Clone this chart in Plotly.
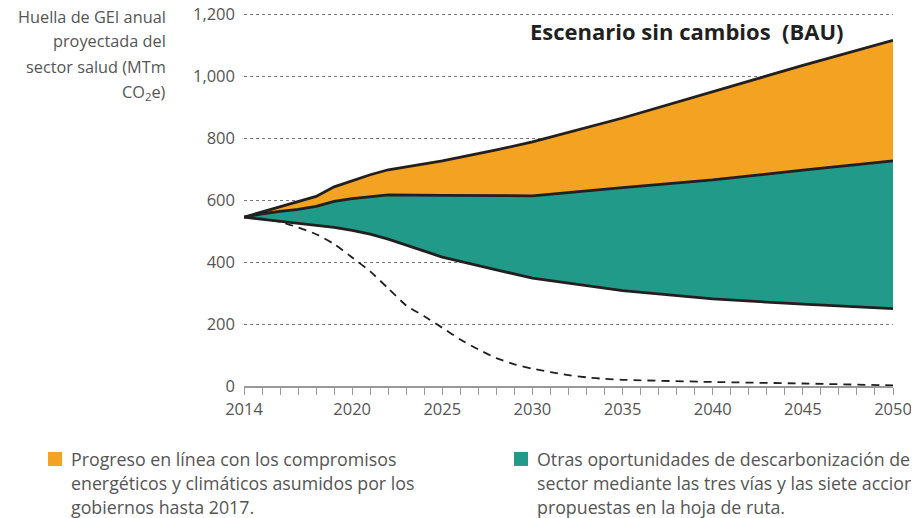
import plotly.graph_objects as go

# ---- data ----
years = [2014, 2015, 2016, 2017, 2018, 2019, 2020, 2021, 2022, 2025, 2028, 2030, 2035, 2040, 2045, 2050]
bau_top = [545, 562, 578, 595, 612, 643, 663, 682, 698, 727, 762, 788, 865, 950, 1035, 1116]
commit_line = [545, 556, 564, 570, 580, 596, 605, 612, 617, 615, 613, 614, 640, 665, 697, 727]
roadmap_line = [545, 538, 533, 526, 518, 512, 502, 490, 474, 416, 375, 348, 308, 281, 264, 250]

dash_years = [2014, 2015, 2016, 2017, 2018, 2019, 2020, 2021, 2022, 2023, 2024, 2025, 2026, 2027,
              2028, 2029, 2030, 2031, 2032, 2033, 2034, 2035, 2040, 2045, 2050]
dash_vals = [545, 540, 530, 512, 490, 458, 415, 370, 315, 260, 225, 188, 150, 118,
             90, 70, 56, 45, 35, 28, 23, 20, 13, 8, 2]

x_labeled = [2014, 2020, 2025, 2030, 2035, 2040, 2045, 2050]
y_ticks = [0, 200, 400, 600, 800, 1000, 1200]

title_text = "Escenario sin cambios  (BAU)"
y_title_lines = ["Huella de GEI anual", "proyectada del", "sector salud (MTm", "CO<sub>2</sub>e)"]
legend1_lines = ["Progreso en línea con los compromisos",
                 "energéticos y climáticos asumidos por los",
                 "gobiernos hasta 2017."]
legend2_lines = ["Otras oportunidades de descarbonización del",
                 "sector mediante las tres vías y las siete acciones",
                 "propuestas en la hoja de ruta."]

ORANGE = "#F3A221"
TEAL = "#219A8A"
DARK = "#231F20"
GRAY_TXT = "#555555"
FONT = "Open Sans, Arial, sans-serif"

# page offset (body margin) so window pixels map to figure pixels
OFF = 8
W, H = 919, 518
Y_MAX = 1204
# plot area in window pixels: x 244..893 ; value 0 at y=386, 1200 at y=14
PX_PER_UNIT = (386 - 14) / 1200
top_w = 386 - Y_MAX * PX_PER_UNIT
L, R, T, B = 244 - OFF, W - (893 - OFF), top_w - OFF, H - (386 - OFF)
pw, ph = W - L - R, H - T - B

def px(xw):
    return (xw - OFF - L) / pw

def py(yw):
    return (H - B - (yw - OFF)) / ph

fig = go.Figure()
fig.add_trace(go.Scatter(x=years, y=roadmap_line, mode="lines", line=dict(color=DARK, width=0),
                         hoverinfo="skip", showlegend=False))
fig.add_trace(go.Scatter(x=years, y=commit_line, mode="lines", line=dict(color=DARK, width=0),
                         fill="tonexty", fillcolor=TEAL, hoverinfo="skip", showlegend=False))
fig.add_trace(go.Scatter(x=years, y=bau_top, mode="lines", line=dict(color=DARK, width=0),
                         fill="tonexty", fillcolor=ORANGE, hoverinfo="skip", showlegend=False))
fig.add_trace(go.Scatter(x=dash_years, y=dash_vals, mode="lines",
                         line=dict(color=DARK, width=1.8, dash="8px,6px", shape="spline", smoothing=0.6),
                         hoverinfo="skip", showlegend=False))
for ys in (roadmap_line, commit_line, bau_top):
    fig.add_trace(go.Scatter(x=years, y=ys, mode="lines", line=dict(color=DARK, width=2.8),
                             hoverinfo="skip", showlegend=False))

ann = []
ann.append(dict(text="<b>" + title_text + "</b>", x=px(846), y=py(31), xref="paper", yref="paper",
                xanchor="right", yanchor="middle", showarrow=False,
                font=dict(family=FONT, size=22, color=DARK)))
y_title_pos = [17, 41, 67, 92]
for line, yw in zip(y_title_lines, y_title_pos):
    ann.append(dict(text=line, x=px(168), y=py(yw), xref="paper", yref="paper",
                    xanchor="right", yanchor="middle", showarrow=False,
                    font=dict(family=FONT, size=16.3, color=GRAY_TXT)))
for i, line in enumerate(legend1_lines):
    ann.append(dict(text=line, x=px(69), y=py(459 + 24 * i), xref="paper", yref="paper",
                    xanchor="left", yanchor="middle", showarrow=False,
                    font=dict(family=FONT, size=17.8, color=GRAY_TXT)))
for i, line in enumerate(legend2_lines):
    ann.append(dict(text=line, x=px(535), y=py(459 + 24 * i), xref="paper", yref="paper",
                    xanchor="left", yanchor="middle", showarrow=False,
                    font=dict(family=FONT, size=17.8, color=GRAY_TXT)))

shapes = [
    dict(type="rect", xref="paper", yref="paper", x0=px(48), x1=px(62), y0=py(466), y1=py(452),
         fillcolor=ORANGE, line=dict(width=0)),
    dict(type="rect", xref="paper", yref="paper", x0=px(514), x1=px(528), y0=py(466), y1=py(452),
         fillcolor=TEAL, line=dict(width=0)),
]

fig.update_layout(
    width=W, height=H, margin=dict(l=L, r=R, t=T, b=B, autoexpand=False),
    paper_bgcolor="white", plot_bgcolor="white",
    font=dict(family=FONT, size=16, color=GRAY_TXT),
    annotations=ann, shapes=shapes, showlegend=False,
    xaxis=dict(range=[2014, 2050], tickmode="array", tickvals=x_labeled,
               ticktext=[str(y) for y in x_labeled],
               ticks="outside", ticklen=7, tickcolor="#999999", tickwidth=1,
               minor=dict(dtick=1, tick0=2014, ticks="outside", ticklen=7, tickcolor="#999999",
                          tickwidth=1, showgrid=False),
               showline=True, linecolor="#999999", linewidth=1.5, automargin=False,
               ticklabeloverflow="allow",
               showgrid=False, zeroline=False, tickfont=dict(size=16.5, color=GRAY_TXT)),
    yaxis=dict(range=[0, Y_MAX], tickmode="array", tickvals=y_ticks,
               ticktext=[f"{v:,}" for v in y_ticks], ticks="", ticklabelstandoff=8,
               ticklabeloverflow="allow",
               showgrid=True, gridcolor="#777777", gridwidth=1, griddash="dot", automargin=False,
               zeroline=False, showline=False, tickfont=dict(size=16.5, color=GRAY_TXT)),
)

fig.write_html("out.html")
